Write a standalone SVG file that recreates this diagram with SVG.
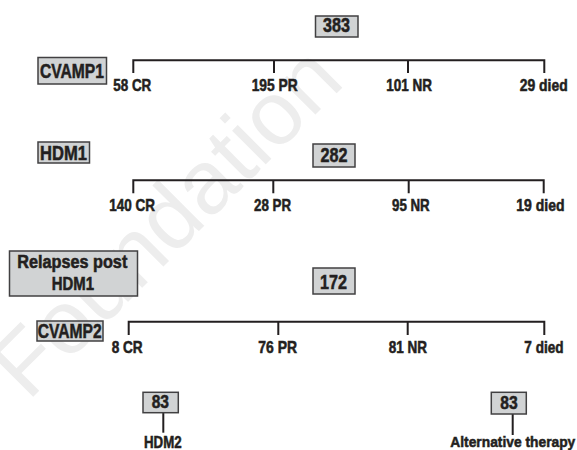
<svg xmlns="http://www.w3.org/2000/svg" width="577" height="450" viewBox="0 0 577 450">
<style>
text{font-family:"Liberation Sans Narrow","Liberation Sans",Arial,sans-serif;font-weight:bold;fill:#231f20;stroke:#231f20;stroke-width:0.55}
.box{fill:#d1d3d4;stroke:#414042;stroke-width:1.5}
.lbl{font-size:16.5px}
.bx{font-size:20.5px}
.con{fill:none;stroke:#231f20;stroke-width:2}
.wm{font-family:"Liberation Sans",Arial,sans-serif;font-weight:normal;fill:#ededed;stroke:none;font-size:90px}
</style>
<rect width="577" height="450" fill="#ffffff"/>
<text class="wm" transform="translate(28,402) rotate(-45)">Foundation</text>
<g id="connectors">
<path class="con" d="M133.3,73 V60.3 H544.3 V73 M274,60.3 V73 M408,60.3 V73"/>
<path class="con" d="M133.3,193.3 V180.3 H543.7 V193.3 M273.3,180.3 V193.3 M408.7,180.3 V193.3"/>
<path class="con" d="M128.7,335 V321.7 H544.3 V335 M278.3,321.7 V335 M407.7,321.7 V335"/>
<path class="con" d="M163.3,412.7 V432.7"/>
<path class="con" d="M512.7,414 V435"/>
</g>
<g id="n383"><rect class="box" x="315.5" y="16" width="42.5" height="21"/><text class="bx" x="323" y="32.3" textLength="27" lengthAdjust="spacingAndGlyphs">383</text></g>
<g id="cvamp1"><rect class="box" x="38" y="57.5" width="68.5" height="26.5"/><text class="bx" x="40" y="77.7" textLength="64" lengthAdjust="spacingAndGlyphs">CVAMP1</text></g>
<g id="r1cr"><text class="lbl" x="113.3" y="90.5" textLength="38" lengthAdjust="spacingAndGlyphs">58 CR</text></g>
<g id="r1pr"><text class="lbl" x="251.7" y="90.5" textLength="46" lengthAdjust="spacingAndGlyphs">195 PR</text></g>
<g id="r1nr"><text class="lbl" x="386.3" y="90.5" textLength="45.7" lengthAdjust="spacingAndGlyphs">101 NR</text></g>
<g id="r1died"><text class="lbl" x="519.7" y="91" textLength="48" lengthAdjust="spacingAndGlyphs">29 died</text></g>
<g id="hdm1"><rect class="box" x="38" y="142" width="51.5" height="21"/><text class="bx" x="40" y="159.5" textLength="47" lengthAdjust="spacingAndGlyphs">HDM1</text></g>
<g id="n282"><rect class="box" x="313" y="144" width="42" height="23"/><text class="bx" x="320.5" y="162" textLength="27" lengthAdjust="spacingAndGlyphs">282</text></g>
<g id="r2cr"><text class="lbl" x="109.3" y="211" textLength="45.7" lengthAdjust="spacingAndGlyphs">140 CR</text></g>
<g id="r2pr"><text class="lbl" x="254" y="211" textLength="37" lengthAdjust="spacingAndGlyphs">28 PR</text></g>
<g id="r2nr"><text class="lbl" x="392" y="211" textLength="37.7" lengthAdjust="spacingAndGlyphs">95 NR</text></g>
<g id="r2died"><text class="lbl" x="516.3" y="211" textLength="48.3" lengthAdjust="spacingAndGlyphs">19 died</text></g>
<g id="relapses"><rect class="box" x="9.5" y="251" width="128" height="45"/><text x="17.3" y="268.3" font-size="17.5" textLength="110" lengthAdjust="spacingAndGlyphs">Relapses post</text><text x="51.7" y="290" font-size="17.5" textLength="42.3" lengthAdjust="spacingAndGlyphs">HDM1</text></g>
<g id="n172"><rect class="box" x="313" y="268" width="42" height="26"/><text class="bx" x="320" y="288.5" textLength="27" lengthAdjust="spacingAndGlyphs">172</text></g>
<g id="cvamp2"><rect class="box" x="37" y="321" width="66" height="20"/><text class="bx" x="37.7" y="338.3" textLength="64" lengthAdjust="spacingAndGlyphs">CVAMP2</text></g>
<g id="r3cr"><text class="lbl" x="111.7" y="353" textLength="31" lengthAdjust="spacingAndGlyphs">8 CR</text></g>
<g id="r3pr"><text class="lbl" x="258.3" y="353" textLength="38.7" lengthAdjust="spacingAndGlyphs">76 PR</text></g>
<g id="r3nr"><text class="lbl" x="388.7" y="353" textLength="38.3" lengthAdjust="spacingAndGlyphs">81 NR</text></g>
<g id="r3died"><text class="lbl" x="524.3" y="353" textLength="39.3" lengthAdjust="spacingAndGlyphs">7 died</text></g>
<g id="n83a"><rect class="box" x="143" y="392.3" width="35.3" height="20.4"/><text x="151.7" y="408.3" font-size="18.5" textLength="17.3" lengthAdjust="spacingAndGlyphs">83</text></g>
<g id="hdm2"><text class="lbl" x="144" y="448.3" textLength="37.7" lengthAdjust="spacingAndGlyphs">HDM2</text></g>
<g id="n83b"><rect class="box" x="491.3" y="392.3" width="35" height="21.7"/><text x="500.3" y="408.5" font-size="18.5" textLength="17.4" lengthAdjust="spacingAndGlyphs">83</text></g>
<g id="alt"><text x="450.3" y="446.7" font-size="15.5" textLength="125" lengthAdjust="spacingAndGlyphs">Alternative therapy</text></g>
</svg>
